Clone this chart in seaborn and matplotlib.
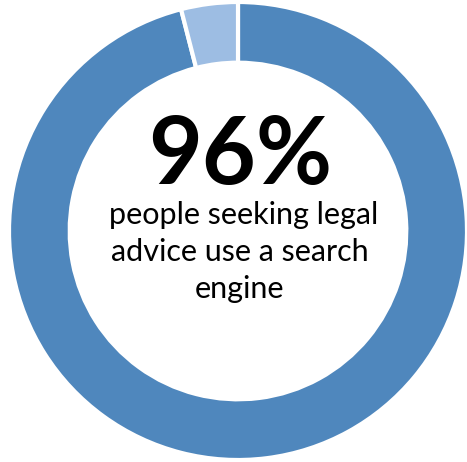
import matplotlib
matplotlib.use("Agg")
import matplotlib.pyplot as plt
import seaborn as sns

sns.set_theme(style="white")
plt.rcParams['font.family'] = ['Lato', 'DejaVu Sans']

labels = ["Use a search engine", "Other"]
values = [96, 4]
colors = ["#4f87bd", "#9dbde3"]
headline = "96%"
body_lines = ["people seeking legal", "advice use a search", "engine"]

W, H = 467, 462
fig = plt.figure(figsize=(W / 100, H / 100), dpi=100)
cx, cy, R = 238, 231, 229
ax = fig.add_axes([(cx - R) / W, (H - cy - R) / H, 2 * R / W, 2 * R / H])
ax.pie(values, colors=colors, startangle=90, counterclock=False, radius=1,
       wedgeprops=dict(width=0.265, edgecolor="white", linewidth=3))
ax.set_xlim(-1, 1)
ax.set_ylim(-1, 1)
ax.set_aspect("equal")
ax.axis("off")

fig.text(240 / W, 1 - 184 / H, headline, ha="center", va="baseline",
         fontsize=67, fontweight="bold", color="black")
for i, (line, xc) in enumerate(zip(body_lines, [244, 240, 240])):
    fig.text(xc / W, 1 - (224 + 37 * i) / H, line, ha="center", va="baseline",
             fontsize=22, color="black")

fig.savefig("out.png", dpi=100)
